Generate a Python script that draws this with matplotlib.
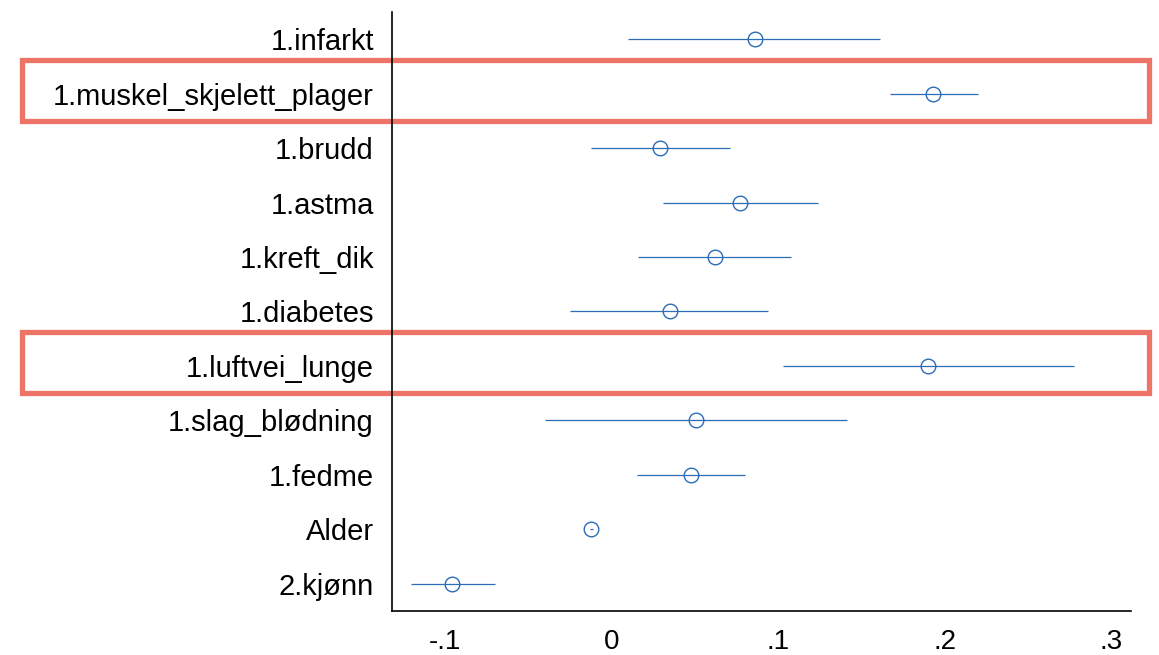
import matplotlib
matplotlib.use("Agg")
import matplotlib.pyplot as plt
import matplotlib.transforms as mtransforms
from matplotlib.patches import Rectangle

plt.rcParams['font.family'] = ['Liberation Sans', 'DejaVu Sans']

# coefficients (top to bottom as shown)
labels = ["1.infarkt", "1.muskel_skjelett_plager", "1.brudd", "1.astma", "1.kreft_dik",
          "1.diabetes", "1.luftvei_lunge", "1.slag_blødning", "1.fedme", "Alder", "2.kjønn"]
coef = [0.086, 0.193, 0.029, 0.0775, 0.0625, 0.035, 0.190, 0.051, 0.048, -0.012, -0.0955]
lo = [0.010, 0.167, -0.012, 0.031, 0.016, -0.025, 0.103, -0.040, 0.0155, -0.013, -0.120]
hi = [0.161, 0.220, 0.0715, 0.124, 0.108, 0.094, 0.2775, 0.1415, 0.0805, -0.011, -0.070]
highlight = ["1.muskel_skjelett_plager", "1.luftvei_lunge"]

xticks = [-0.1, 0, 0.1, 0.2, 0.3]
xticklabels = ["-.1", "0", ".1", ".2", ".3"]

n = len(labels)
ypos = [n - 1 - i for i in range(n)]
col = '#2d6cb6'

fig = plt.figure(figsize=(11.59, 6.55), dpi=100)
ax = fig.add_axes([0.3382, 0.0672, 0.6376, 0.9145])
ax.patch.set_visible(False)

ax.hlines(ypos, lo, hi, color=col, lw=0.9)
ax.plot(coef, ypos, 'o', mfc='none', mec=col, ms=10.5, mew=1.0)

ax.set_xlim(-0.1315, 0.3117)
ax.set_ylim(-0.5, n - 0.5)
ax.set_yticks(ypos)
ax.set_yticklabels(labels, fontsize=21)
ax.set_xticks(xticks)
ax.set_xticklabels(xticklabels, fontsize=20)
ax.tick_params(axis='both', length=0)
ax.tick_params(axis='y', pad=13)
ax.tick_params(axis='x', pad=13)
for s in ['top', 'right']:
    ax.spines[s].set_visible(False)
ax.spines['left'].set_linewidth(1.2)
ax.spines['bottom'].set_linewidth(1.2)

# red boxes around highlighted rows
trans = mtransforms.blended_transform_factory(fig.transFigure, ax.transData)
for name in highlight:
    y = ypos[labels.index(name)]
    r = Rectangle((0.0194, y - 0.5), 0.9724, 1.12, transform=trans, fill=False,
                  ec='#ee7468', lw=3.8, clip_on=False, zorder=-1)
    fig.add_artist(r)

fig.savefig("out.png", dpi=100)
